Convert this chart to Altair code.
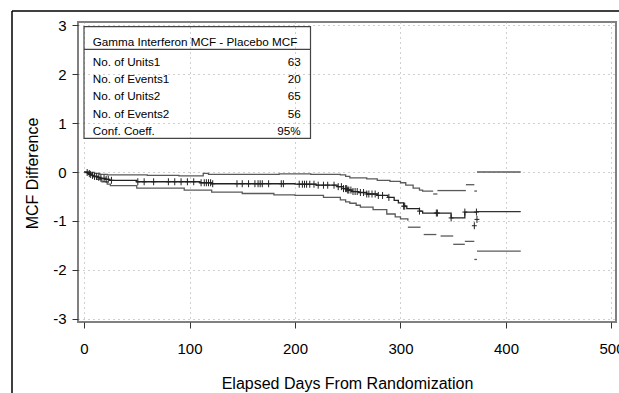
import altair as alt
import pandas as pd
import numpy as np

# ---- data ----
mean_day = [0, 2, 4, 6, 8, 10, 13, 16, 20, 24, 50, 110, 121, 200, 220, 240, 246, 250,
            254, 260, 268, 278, 288, 294, 298, 303, 306, 318, 321, 348, 361, 372.5]
mean_val = [0, -0.01, -0.03, -0.05, -0.07, -0.09, -0.11, -0.13, -0.15, -0.17, -0.2, -0.22,
            -0.24, -0.25, -0.27, -0.3, -0.34, -0.37, -0.4, -0.42, -0.45, -0.48, -0.52, -0.58,
            -0.63, -0.7, -0.75, -0.8, -0.84, -0.94, -0.82, -0.82]

up_day = [0, 5, 10, 15, 22, 60, 90, 113, 118, 170, 185, 215, 243, 248, 252, 268, 278,
          290, 300, 305, 312, 318, 321, 331]
up_val = [0, -0.01, -0.03, -0.05, -0.06, -0.07, -0.08, -0.03, -0.05, -0.05, -0.04, -0.05,
          -0.06, -0.09, -0.12, -0.14, -0.17, -0.19, -0.22, -0.27, -0.33, -0.37, -0.39, -0.39]

lo_day = [0, 4, 8, 12, 17, 22, 25, 50, 95, 121, 150, 180, 200, 227, 243, 248, 252, 258,
          262, 274, 287, 295, 300, 307]
lo_val = [0, -0.05, -0.1, -0.15, -0.2, -0.25, -0.28, -0.33, -0.37, -0.41, -0.44, -0.47,
          -0.48, -0.52, -0.57, -0.61, -0.64, -0.68, -0.72, -0.77, -0.86, -0.92, -0.96, -1.0]

# detached step pieces (start, end, value)
mean_seg_start = [372.5]
mean_seg_end = [414]
mean_seg_val = [-0.81]

up_seg_start = [331, 335, 362, 370, 372.5]
up_seg_end = [335, 362, 370, 372.5, 414]
up_seg_val = [-0.45, -0.38, -0.26, -0.39, 0.0]

lo_seg_start = [307, 322, 338, 350, 361, 370, 372.5]
lo_seg_end = [319, 334, 350, 361, 370, 372.5, 414]
lo_seg_val = [-1.13, -1.28, -1.31, -1.48, -1.42, -1.79, -1.62]

censor_day = [3, 5, 6, 8, 10, 12, 14, 16, 19, 21, 23, 26, 51, 57, 66, 80, 86, 92, 98, 104,
              111, 114, 116, 118, 120, 122, 145, 150, 156, 162, 165, 167, 169, 175, 187, 189,
              204, 207, 209, 211, 214, 218, 222, 227, 231, 237, 241, 244, 246, 248, 249, 250,
              251, 253, 255, 257, 259, 262, 265, 268, 270, 273, 276, 279, 283, 289, 303, 304,
              318, 334, 335, 348, 361, 372]
extra_censor_day = [372.5, 370]
extra_censor_val = [-0.97, -1.1]

header_title = "Gamma Interferon MCF - Placebo MCF"
box_labels = ["No. of Units1", "No. of Events1", "No. of Units2", "No. of Events2", "Conf. Coeff."]
box_values = ["63", "20", "65", "56", "95%"]

x_ticks = [0, 100, 200, 300, 400, 500]
y_ticks = [-3, -2, -1, 0, 1, 2, 3]

# ---- tables ----
def curve(days, vals, name):
    return pd.DataFrame({"day": days, "val": vals, "curve": name})

mean_df = curve(mean_day, mean_val, "mean")
bound_df = pd.concat([curve(up_day, up_val, "upper"), curve(lo_day, lo_val, "lower")])
seg_df = pd.concat([
    pd.DataFrame({"start": up_seg_start, "end": up_seg_end, "val": up_seg_val, "curve": "upper"}),
    pd.DataFrame({"start": lo_seg_start, "end": lo_seg_end, "val": lo_seg_val, "curve": "lower"}),
])
mseg_df = pd.DataFrame({"start": mean_seg_start, "end": mean_seg_end, "val": mean_seg_val})

# censor marks sit on the mean step function
idx = np.searchsorted(np.array(mean_day), np.array(censor_day), side="right") - 1
cens_df = pd.concat([
    pd.DataFrame({"day": censor_day, "val": np.array(mean_val)[idx]}),
    pd.DataFrame({"day": extra_censor_day, "val": extra_censor_val}),
])

FONT = "Liberation Sans"
xs = alt.Scale(domain=[-5.7, 504.3], nice=False, zero=False)
ys = alt.Scale(domain=[-3.07, 3.07], nice=False, zero=False)
X_TITLE = "Elapsed Days From Randomization"
Y_TITLE = "MCF Difference"

x_axis = alt.Axis(values=x_ticks, labelExpr="'' + datum.value",
                  grid=True, gridDash=[1, 4], gridColor="#a0a0a0", domain=False,
                  tickSize=6, tickColor="#333", labelFontSize=15, labelFont=FONT,
                  labelColor="black", labelBaseline="alphabetic", labelPadding=25,
                  labelFlush=False, labelOverlap=False,
                  titleFontSize=16, titleFont=FONT, titleFontWeight="normal",
                  titleColor="black", titleBaseline="alphabetic", titleY=66)
y_axis = alt.Axis(values=y_ticks, labelExpr="'' + datum.value",
                  grid=True, gridDash=[1, 4], gridColor="#a0a0a0", domain=False,
                  tickSize=6, tickColor="#333", labelFontSize=15, labelFont=FONT,
                  labelColor="black", labelPadding=6, labelOverlap=False, labelFlush=False,
                  titleFontSize=16, titleFont=FONT, titleFontWeight="normal",
                  titleColor="black", titleAngle=270, titleBaseline="alphabetic",
                  titleAlign="center", titleX=-41, titleY=151)

def X(field):
    return alt.X(field, scale=xs, axis=x_axis, title=X_TITLE)

def Y(field):
    return alt.Y(field, scale=ys, axis=y_axis, title=Y_TITLE)

mean_line = alt.Chart(mean_df).mark_line(interpolate="step-after", color="#222",
                                         strokeWidth=1.3).encode(
    x=X("day:Q"), y=Y("val:Q"))
bound_lines = alt.Chart(bound_df).mark_line(interpolate="step-after", color="#5a5a5a",
                                            strokeWidth=1.3).encode(
    x=X("day:Q"), y=Y("val:Q"), detail="curve:N")
bound_segs = alt.Chart(seg_df).mark_rule(color="#5a5a5a", strokeWidth=1.3).encode(
    x=X("start:Q"), x2="end:Q", y=Y("val:Q"))
mean_segs = alt.Chart(mseg_df).mark_rule(color="#333", strokeWidth=1.3).encode(
    x=X("start:Q"), x2="end:Q", y=Y("val:Q"))
censor = alt.Chart(cens_df).mark_point(shape="M-0.7,0L0.7,0M0,-1L0,1", size=49,
                                       filled=False, stroke="#222", strokeWidth=1,
                                       opacity=1).encode(
    x=X("day:Q"), y=Y("val:Q"))

dummy = pd.DataFrame({"a": [0]})
box = alt.Chart(dummy).mark_rect(fillOpacity=0, stroke="#444", strokeWidth=1.2).encode(
    x=alt.value(6), x2=alt.value(232.5), y=alt.value(4.7), y2=alt.value(116.3))
sep = alt.Chart(dummy).mark_rule(color="#444", strokeWidth=1.2).encode(
    x=alt.value(6), x2=alt.value(232.5), y=alt.value(27.3))
head = alt.Chart(dummy).mark_text(align="left", baseline="alphabetic", fontSize=11.7,
                                  font=FONT, color="black").encode(
    x=alt.value(14.7), y=alt.value(24), text=alt.value(header_title))

rows = []
for i, (lab, val) in enumerate(zip(box_labels, box_values)):
    yb = 44 + 17.2 * i
    rows.append(alt.Chart(dummy).mark_text(align="left", baseline="alphabetic",
                                           fontSize=11.7, font=FONT, color="black").encode(
        x=alt.value(14.7), y=alt.value(yb), text=alt.value(lab)))
    rows.append(alt.Chart(dummy).mark_text(align="right", baseline="alphabetic",
                                           fontSize=11.7, font=FONT, color="black").encode(
        x=alt.value(222.7), y=alt.value(yb), text=alt.value(val)))

# outer picture frame (top and left edges visible)
frame_top = alt.Chart(dummy).mark_rule(color="black", strokeWidth=1.5).encode(
    x=alt.value(-66), x2=alt.value(545), y=alt.value(-11))
frame_left = alt.Chart(dummy).mark_rule(color="black", strokeWidth=1.5).encode(
    x=alt.value(-66), y=alt.value(-11), y2=alt.value(375))

chart = alt.layer(
    mean_line, bound_lines, bound_segs, mean_segs, censor, box, sep, head, *rows,
    frame_top, frame_left,
).properties(
    width=538, height=300,
    autosize=alt.AutoSizeParams(type="none"),
    padding={"left": 78, "top": 22, "right": 3, "bottom": 71},
    background="white",
).configure_view(stroke="#808080", strokeWidth=2)

chart.save("out.html", embed_options={"renderer": "svg", "actions": False})
